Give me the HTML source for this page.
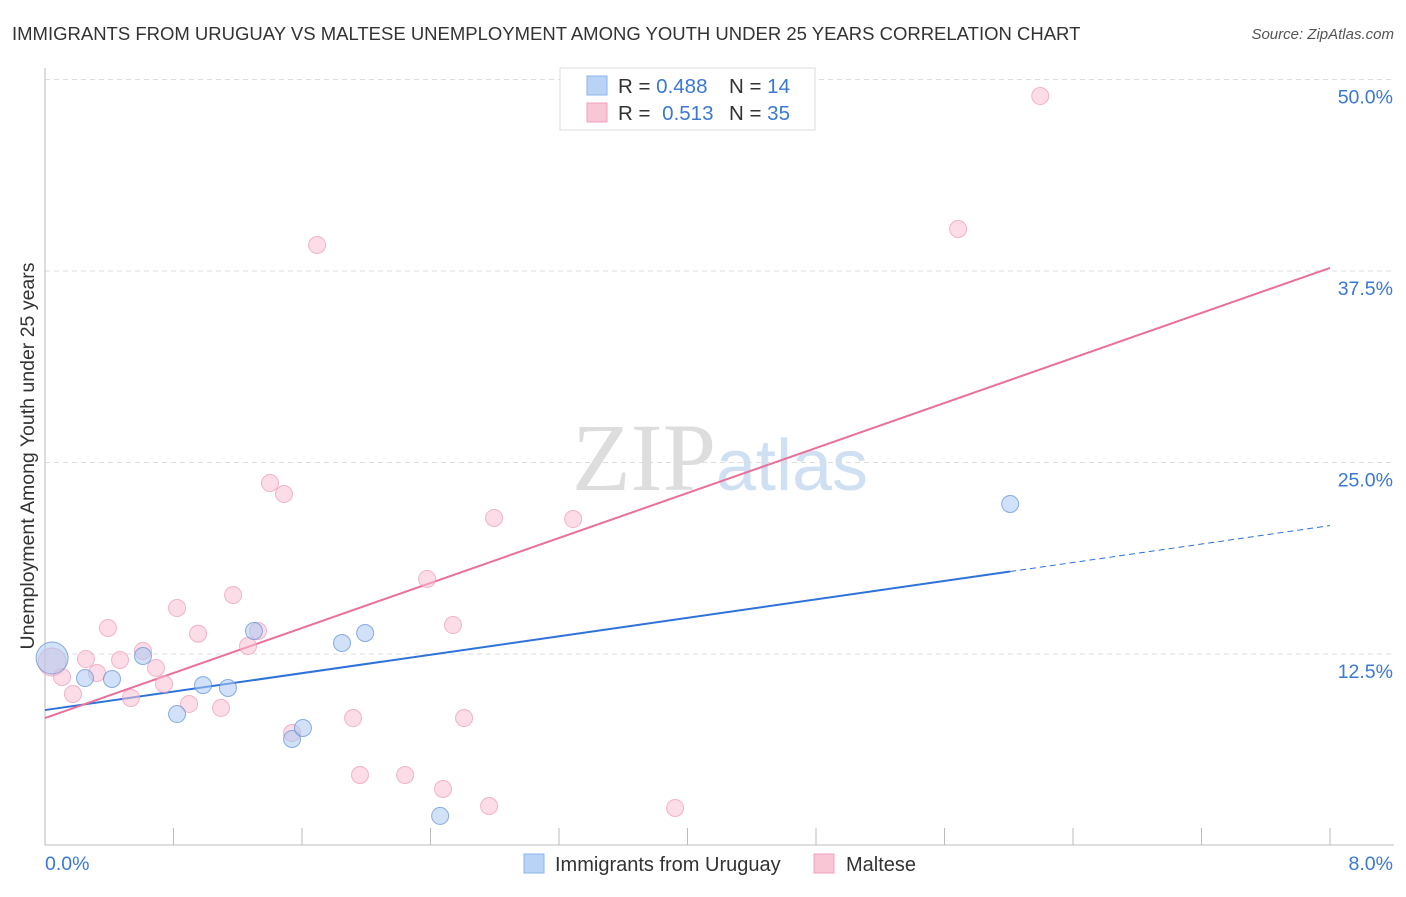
<!DOCTYPE html>
<html><head><meta charset="utf-8"><style>
body{margin:0;background:#fff;font-family:"Liberation Sans",sans-serif;}
svg text{font-family:"Liberation Sans",sans-serif;}
</style></head><body>
<svg id="chart" width="1406" height="892" xmlns="http://www.w3.org/2000/svg">
<text x="12" y="40" font-size="18.5" fill="#333">IMMIGRANTS FROM URUGUAY VS MALTESE UNEMPLOYMENT AMONG YOUTH UNDER 25 YEARS CORRELATION CHART</text>
<text x="1394" y="39" font-size="15" fill="#555" font-style="italic" text-anchor="end">Source: ZipAtlas.com</text>
<text x="720" y="490" font-size="96" text-anchor="middle"><tspan fill="#ddd" font-family="Liberation Serif">ZIP</tspan><tspan fill="#cfe0f3" font-size="72">atlas</tspan></text>
<text transform="translate(34,456) rotate(-90)" font-size="19.5" fill="#333" text-anchor="middle">Unemployment Among Youth under 25 years</text>
<g id="grid"></g><g id="axes"></g><g id="lines"></g><g id="points"></g>
<g>
<rect x="560" y="68" width="255" height="62" fill="#fff" stroke="#ddd"/>
<rect x="587" y="76" width="20" height="19" fill="#b8d3f5" stroke="#8ab4ea"/>
<rect x="587" y="103" width="20" height="19" fill="#f9c6d6" stroke="#f0a0bb"/>
<text x="618" y="93" font-size="20.5" fill="#333">R = <tspan fill="#3a78d4">0.488</tspan></text>
<text x="729" y="93" font-size="20.5" fill="#333">N = <tspan fill="#3a78d4">14</tspan></text>
<text x="618" y="120" font-size="20.5" fill="#333">R = <tspan fill="#3a78d4" dx="6">0.513</tspan></text>
<text x="729" y="120" font-size="20.5" fill="#333">N = <tspan fill="#3a78d4">35</tspan></text>
</g>
<g>
<rect x="524" y="854" width="20" height="19" fill="#b8d3f5" stroke="#8ab4ea"/>
<text x="555" y="871" font-size="20" fill="#333">Immigrants from Uruguay</text>
<rect x="814" y="854" width="20" height="19" fill="#f9c6d6" stroke="#f0a0bb"/>
<text x="846" y="871" font-size="20" fill="#333">Maltese</text>
</g>
</svg>
<script>
const yTicks=[12.5,25,37.5,50];
const yTickLabels=["12.5%","25.0%","37.5%","50.0%"];
const xTickCount=10;
const blueX=[0.044,0.249,0.417,0.610,0.822,0.984,1.139,1.301,1.538,1.606,1.849,1.993,2.460,6.009];
const blueY=[12.24,10.93,10.87,12.37,8.58,10.47,10.28,14.00,6.95,7.67,13.22,13.87,1.93,22.29];
const pinkX=[0.044,0.106,0.174,0.255,0.324,0.392,0.467,0.535,0.610,0.691,0.741,0.822,0.897,0.953,1.096,1.171,1.264,1.326,1.401,1.488,1.538,1.694,1.918,1.961,2.242,2.379,2.478,2.540,2.609,2.765,2.796,3.288,3.923,5.685,6.196];
const pinkY=[11.98,11.00,9.89,12.17,11.26,14.20,12.11,9.63,12.70,11.59,10.54,15.50,9.24,13.82,8.98,16.35,13.02,14.00,23.66,22.94,7.34,39.20,8.32,4.60,4.60,17.40,3.69,14.39,8.32,2.58,21.38,21.31,2.45,40.24,48.92];
const blueTrend=[8.84,20.88]; const blueSolidEnd=6.009;
const pinkTrend=[8.32,37.7];
const NS="http://www.w3.org/2000/svg";
const X=v=>45+v/8*1285, Y=v=>845.5-v*15.32;
function mk(p,t,a){const e=document.createElementNS(NS,t);for(const k in a)e.setAttribute(k,a[k]);document.getElementById(p).appendChild(e);return e;}
yTicks.forEach((t,i)=>{
 const g=mk('grid','line',{x1:45,x2:1394,y1:Y(t),y2:Y(t),stroke:'#ddd','stroke-dasharray':'5,4'});
 
 
 const l=mk('grid','text',{x:1393,y:Y(t)+24,'font-size':19.5,fill:'#3a78d4','text-anchor':'end'});l.textContent=yTickLabels[i];
 
 
});
const ax=mk('axes','line',{x1:45,x2:1394,y1:845,y2:845,stroke:'#bbb'});


const ay=mk('axes','line',{x1:45,x2:45,y1:68,y2:845,stroke:'#bbb'});


for(let i=1;i<=xTickCount;i++){const t=mk('axes','line',{x1:X(i*0.8),x2:X(i*0.8),y1:828,y2:845,stroke:'#bbb'});
 
 }
[["0.0%",45,'start'],["8.0%",1393,'end']].forEach(a=>{const t=mk('axes','text',{x:a[1],y:870,'font-size':19.5,fill:'#3a78d4','text-anchor':a[2]});t.textContent=a[0];
 
 });
const lb=(v)=>blueTrend[0]+(blueTrend[1]-blueTrend[0])*v/8;
const b1=mk('lines','line',{x1:X(0),y1:Y(blueTrend[0]),x2:X(blueSolidEnd),y2:Y(lb(blueSolidEnd)),stroke:'#2f72d8','stroke-width':2});


const b2=mk('lines','line',{x1:X(blueSolidEnd),y1:Y(lb(blueSolidEnd)),x2:X(8),y2:Y(blueTrend[1]),stroke:'#2f72d8','stroke-width':1,'stroke-dasharray':'6,4'});


const p1=mk('lines','line',{x1:X(0),y1:Y(pinkTrend[0]),x2:X(8),y2:Y(pinkTrend[1]),stroke:'#e8709a','stroke-width':2});


function pts(xs,ys,fill,stroke,name){xs.forEach((x,i)=>{const r=i===0?(name==='uruguay-point'?16:14):8.5;
 const c=mk('points','circle',{cx:X(x),cy:Y(ys[i]),r:r,fill:fill,stroke:stroke,'stroke-width':1,'fill-opacity':0.55,'stroke-opacity':0.7});
 
 });}
pts(pinkX,pinkY,'#f9c0d3','#eb9ab6','maltese-point');
pts(blueX,blueY,'#a9c9f2','#5e8fd6','uruguay-point');
</script>
</body></html>
